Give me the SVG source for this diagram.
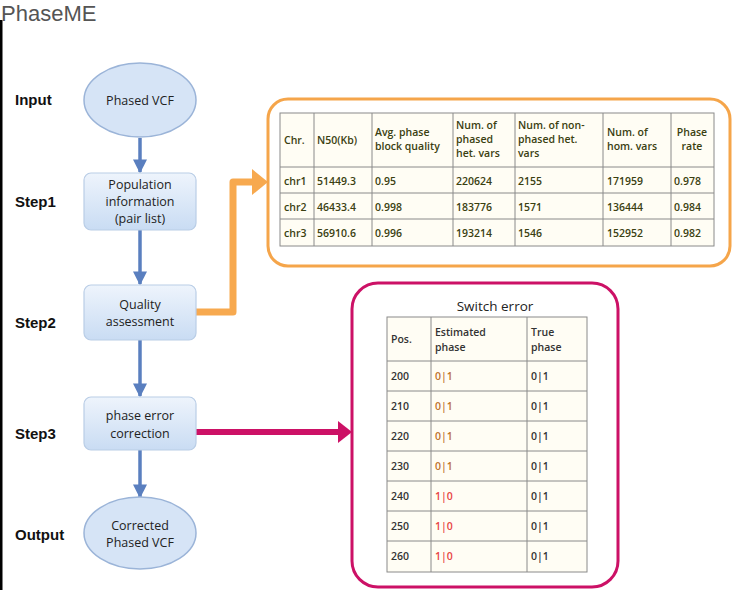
<svg xmlns="http://www.w3.org/2000/svg" width="734" height="590" viewBox="0 0 734 590">
<defs>
<linearGradient id="boxg" x1="0" y1="0" x2="0" y2="1">
<stop offset="0" stop-color="#eef4fc"/>
<stop offset="1" stop-color="#c9dcf3"/>
</linearGradient>
<marker id="ab" viewBox="0 0 10 10" refX="9" refY="5" markerWidth="4" markerHeight="4" orient="auto" markerUnits="strokeWidth">
<path d="M0,0 L10,5 L0,10 z" fill="#5a7fbf"/>
</marker>
</defs>
<style>
.lbl{font-family:"Liberation Sans",Arial,sans-serif;font-weight:bold;font-size:15px;fill:#111}
.nt{font-family:"Open Sans","DejaVu Sans",sans-serif;font-size:12.5px;fill:#222;text-anchor:middle}
.node{fill:url(#boxg);stroke:#b9cde6;stroke-width:1.2}
.ell{fill:#d6e4f6;stroke:#9bb4d8;stroke-width:1.5}
.cell{fill:#fffdf4;stroke:#8a8a8a;stroke-width:1}
.t1{font-family:"Open Sans","DejaVu Sans",sans-serif;font-size:10.5px;font-weight:600;fill:#3a4010}
.t2{font-family:"Open Sans","DejaVu Sans",sans-serif;font-size:10.5px;font-weight:600;fill:#333}
text.ep{fill:#c0732e}
text.er{fill:#e84545}
.flow{stroke:#5a7fbf;stroke-width:3.5;fill:none}
</style>
<rect x="0" y="0" width="734" height="590" fill="#ffffff"/>
<rect x="0" y="20" width="2.5" height="570" fill="#000"/>
<text x="1" y="21" font-family="Liberation Sans,Arial,sans-serif" font-size="22" fill="#555">PhaseME</text>

<text class="lbl" x="15" y="105">Input</text>
<text class="lbl" x="15" y="207">Step1</text>
<text class="lbl" x="15" y="328">Step2</text>
<text class="lbl" x="15" y="439">Step3</text>
<text class="lbl" x="15" y="540">Output</text>

<g id="connectors">
<line class="flow" x1="140" y1="138" x2="140" y2="172" marker-end="url(#ab)" stroke="#3f5f9e"/>
<line class="flow" x1="140" y1="230" x2="140" y2="284" marker-end="url(#ab)"/>
<line class="flow" x1="140" y1="340" x2="140" y2="396" marker-end="url(#ab)"/>
<line class="flow" x1="140" y1="450" x2="140" y2="497" marker-end="url(#ab)"/>
<path d="M196,312 H233 V182 H254" fill="none" stroke="#f7a94f" stroke-width="7" stroke-linejoin="round"/>
<polygon points="252,169 268,182 252,195" fill="#f7a94f"/>
<line x1="196" y1="432" x2="340" y2="432" stroke="#cc1166" stroke-width="6"/>
<polygon points="338,421 352,432 338,443" fill="#cc1166"/>
</g>

<g id="input">
<ellipse class="ell" cx="140" cy="100" rx="56" ry="37"/>
<text class="nt" x="140" y="105">Phased VCF</text>
</g>
<g id="step1">
<rect class="node" x="84" y="173" width="112" height="57" rx="7"/>
<text class="nt" x="140" y="188.5">Population</text>
<text class="nt" x="140" y="205.5">information</text>
<text class="nt" x="140" y="222.5">(pair list)</text>
</g>
<g id="step2">
<rect class="node" x="84" y="285" width="112" height="55" rx="7"/>
<text class="nt" x="140" y="309">Quality</text>
<text class="nt" x="140" y="326">assessment</text>
</g>
<g id="step3">
<rect class="node" x="84" y="397" width="112" height="53" rx="7"/>
<text class="nt" x="140" y="420">phase error</text>
<text class="nt" x="140" y="438">correction</text>
</g>
<g id="output">
<ellipse class="ell" cx="140" cy="533" rx="56" ry="36"/>
<text class="nt" x="140" y="530">Corrected</text>
<text class="nt" x="140" y="547">Phased VCF</text>
</g>

<g id="quality-table">
<rect x="268" y="99" width="462" height="167" rx="20" fill="#fff" stroke="#f5a54a" stroke-width="3"/>
<rect class="cell" x="280" y="113" width="434" height="133"/>
<g stroke="#8a8a8a" stroke-width="1">
<line x1="314" y1="113" x2="314" y2="246"/>
<line x1="372" y1="113" x2="372" y2="246"/>
<line x1="453" y1="113" x2="453" y2="246"/>
<line x1="515" y1="113" x2="515" y2="246"/>
<line x1="603" y1="113" x2="603" y2="246"/>
<line x1="671" y1="113" x2="671" y2="246"/>
<line x1="280" y1="167" x2="714" y2="167"/>
<line x1="280" y1="193" x2="714" y2="193"/>
<line x1="280" y1="219" x2="714" y2="219"/>
</g>
<text class="t1" x="284" y="144">Chr.</text>
<text class="t1" x="317" y="144">N50(Kb)</text>
<text class="t1" x="375" y="136">Avg. phase</text>
<text class="t1" x="375" y="150">block quality</text>
<text class="t1" x="456" y="129">Num. of</text>
<text class="t1" x="456" y="143">phased</text>
<text class="t1" x="456" y="157">het. vars</text>
<text class="t1" x="518" y="129">Num. of non-</text>
<text class="t1" x="518" y="143">phased het.</text>
<text class="t1" x="518" y="157">vars</text>
<text class="t1" x="607" y="136">Num. of</text>
<text class="t1" x="607" y="150">hom. vars</text>
<text class="t1" x="692" y="136" text-anchor="middle">Phase</text>
<text class="t1" x="692" y="150" text-anchor="middle">rate</text>
<g class="t1">
<text x="284" y="185">chr1</text><text x="317" y="185">51449.3</text><text x="375" y="185">0.95</text><text x="456" y="185">220624</text><text x="518" y="185">2155</text><text x="607" y="185">171959</text><text x="674" y="185">0.978</text>
<text x="284" y="211">chr2</text><text x="317" y="211">46433.4</text><text x="375" y="211">0.998</text><text x="456" y="211">183776</text><text x="518" y="211">1571</text><text x="607" y="211">136444</text><text x="674" y="211">0.984</text>
<text x="284" y="237">chr3</text><text x="317" y="237">56910.6</text><text x="375" y="237">0.996</text><text x="456" y="237">193214</text><text x="518" y="237">1546</text><text x="607" y="237">152952</text><text x="674" y="237">0.982</text>
</g>
</g>

<g id="switch-table">
<rect x="352" y="283" width="266" height="304" rx="26" fill="#fff" stroke="#cc1166" stroke-width="3"/>
<text x="495" y="311" font-family="Open Sans,DejaVu Sans,sans-serif" font-size="13.5" fill="#222" text-anchor="middle">Switch error</text>
<rect class="cell" x="387" y="317" width="200" height="255"/>
<g stroke="#8a8a8a" stroke-width="1">
<line x1="431" y1="317" x2="431" y2="572"/>
<line x1="527" y1="317" x2="527" y2="572"/>
<line x1="387" y1="361" x2="587" y2="361"/>
<line x1="387" y1="391" x2="587" y2="391"/>
<line x1="387" y1="421" x2="587" y2="421"/>
<line x1="387" y1="451" x2="587" y2="451"/>
<line x1="387" y1="481" x2="587" y2="481"/>
<line x1="387" y1="511" x2="587" y2="511"/>
<line x1="387" y1="541" x2="587" y2="541"/>
</g>
<text class="t2" x="391" y="343">Pos.</text>
<text class="t2" x="435" y="336">Estimated</text>
<text class="t2" x="435" y="351">phase</text>
<text class="t2" x="531" y="336">True</text>
<text class="t2" x="531" y="351">phase</text>
<g class="t2">
<text x="391" y="380">200</text><text x="435" y="380" class="ep">0|1</text><text x="531" y="380">0|1</text>
<text x="391" y="410">210</text><text x="435" y="410" class="ep">0|1</text><text x="531" y="410">0|1</text>
<text x="391" y="440">220</text><text x="435" y="440" class="ep">0|1</text><text x="531" y="440">0|1</text>
<text x="391" y="470">230</text><text x="435" y="470" class="ep">0|1</text><text x="531" y="470">0|1</text>
<text x="391" y="500">240</text><text x="435" y="500" class="er">1|0</text><text x="531" y="500">0|1</text>
<text x="391" y="530">250</text><text x="435" y="530" class="er">1|0</text><text x="531" y="530">0|1</text>
<text x="391" y="560">260</text><text x="435" y="560" class="er">1|0</text><text x="531" y="560">0|1</text>
</g>
</g>
</svg>
